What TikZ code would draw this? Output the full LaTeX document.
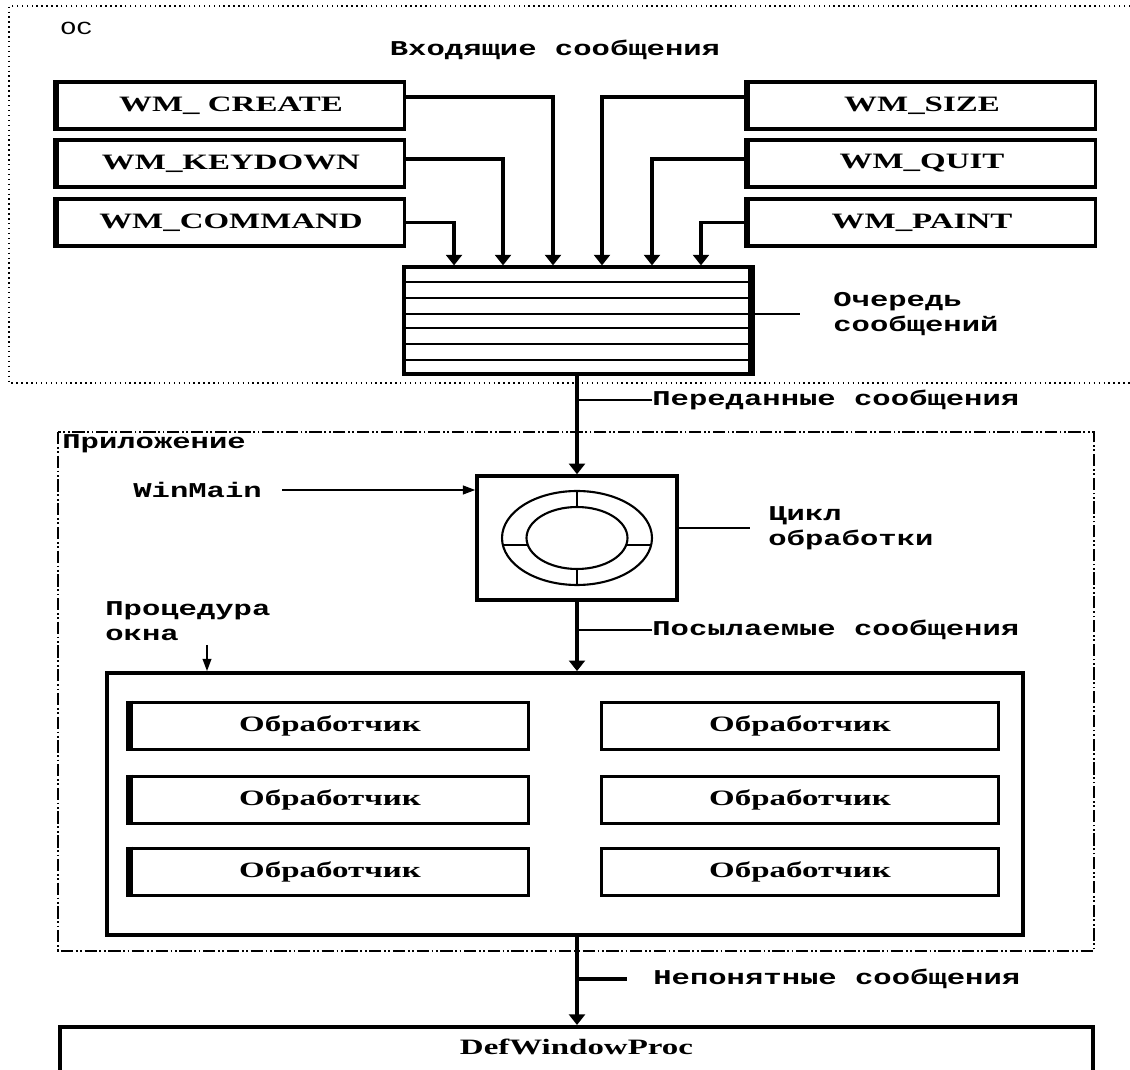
\documentclass[tikz,border=0pt]{standalone}
\usepackage{fontspec}
\usetikzlibrary{arrows.meta}
\newfontfamily\lblfont{Liberation Mono}[FakeStretch=1.45]
\newfontfamily\boxfont{Liberation Serif}[FakeStretch=1.5]

\begin{document}
\begin{tikzpicture}[x=0.02cm,y=-0.02cm,
    msg/.style={draw,line width=1.8pt,minimum width=6.95cm,minimum height=0.94cm,font=\boxfont\bfseries\fontsize{12.5}{14}\selectfont},
    handler/.style={draw,line width=1.9pt,minimum width=7.95cm,minimum height=0.95cm,font=\boxfont\bfseries\fontsize{12.5}{14}\selectfont},
    lbl/.style={font=\lblfont\bfseries\fontsize{12}{14.2}\selectfont,inner sep=0pt,align=left},
    arr/.style={line width=2.2pt,-{Triangle[length=6pt,width=9pt]}},
    thinarr/.style={line width=0.9pt,-{Triangle[length=7pt,width=5pt]}},
    pointer/.style={line width=0.8pt},
    appframe/.style={line width=1.1pt,dash pattern={on 7pt off 1.5pt on 1pt off 1.5pt on 1pt off 1.5pt}}]
    \useasboundingbox (0,0) rectangle (1130,1070);

    \draw[dotted,line width=0.8pt] (1130,6) -- (9,6) -- (9,383) -- (1130,383);
    \node[lbl,anchor=west,font=\lblfont\fontsize{10.5}{12}\selectfont] (os) at (60,28) {ОС};
    \node[lbl] (incoming) at (555,50) {Входящие сообщения};

    \node[msg] (create) at (231,105.5) {WM\_ CREATE};
    \node[msg] (keydown) at (231,163.5) {WM\_KEYDOWN};
    \node[msg] (command) at (231,222.5) {WM\_COMMAND};
    \node[msg] (size) at (922,105.5) {WM\_SIZE};
    \node[msg] (quit) at (922,163.5) {WM\_QUIT};
    \node[msg] (paint) at (922,222.5) {WM\_PAINT};
    \foreach \n in {create,keydown,command,size,quit,paint}
        \draw[line width=3.6pt] (\n.north west) -- (\n.south west);

    \node[draw,line width=1.8pt,minimum width=6.92cm,minimum height=2.14cm] (queue) at (577,320.5) {};
    \foreach \y in {282,298,314,328,344,360}
        \draw[line width=1.4pt] (404,\y) -- (750,\y);
    \draw[line width=3.6pt] (queue.north east) -- (queue.south east);

    \draw[arr] ([yshift=0.17cm]create.east) -| ([xshift=-0.48cm]queue.north);
    \draw[arr] ([yshift=0.09cm]keydown.east) -| ([xshift=-1.48cm]queue.north);
    \draw[arr] (command.east) -| ([xshift=-2.46cm]queue.north);
    \draw[arr] ([yshift=0.17cm]size.west) -| ([xshift=0.5cm]queue.north);
    \draw[arr] ([yshift=0.09cm]quit.west) -| ([xshift=1.5cm]queue.north);
    \draw[arr] (paint.west) -| ([xshift=2.48cm]queue.north);

    \node[lbl,anchor=west] (queuelbl) at (833,314) {Очередь\\сообщений};
    \draw[line width=1.6pt] (queue.east |- queuelbl.west) -- ([xshift=-0.66cm]queuelbl.west);

    \node[lbl,anchor=west] (passed) at (652,400) {Переданные сообщения};

    \draw[appframe] (58,432) rectangle (1094,951);
    \node[lbl,anchor=west] (app) at (62,444) {Приложение};

    \node[draw,line width=2pt,minimum width=4cm,minimum height=2.48cm] (cycle) at (577,538) {};
    \draw[line width=1.2pt] (cycle.center) ellipse [x radius=1.5cm,y radius=0.94cm];
    \draw[line width=1.2pt] (cycle.center) ellipse [x radius=1.01cm,y radius=0.62cm];
    \draw[line width=0.6pt] ([yshift=0.94cm]cycle.center) -- ([yshift=0.62cm]cycle.center);
    \draw[line width=0.6pt] ([yshift=-0.94cm]cycle.center) -- ([yshift=-0.62cm]cycle.center);
    \draw[line width=0.6pt] ([xshift=-1.49cm,yshift=-0.14cm]cycle.center) -- ([xshift=-1cm,yshift=-0.14cm]cycle.center);
    \draw[line width=0.6pt] ([xshift=1.49cm,yshift=-0.14cm]cycle.center) -- ([xshift=1cm,yshift=-0.14cm]cycle.center);

    \draw[arr] (queue.south) -- (cycle.north);
    \draw[pointer] (queue.south |- passed.west) -- (passed.west);

    \node[lbl,anchor=west] (winmain) at (133,490) {WinMain};
    \coordinate (wmstart) at (282,490);
    \draw[thinarr] (wmstart) -- (wmstart -| cycle.west);

    \node[lbl,anchor=west] (cyclelbl) at (768,528) {Цикл\\обработки};
    \draw[pointer] (cycle.east |- cyclelbl.west) -- ([xshift=-0.36cm]cyclelbl.west);

    \node[draw,line width=2.2pt,minimum width=18.32cm,minimum height=5.24cm] (proc) at (565,804) {};
    \node[lbl,anchor=west] (sent) at (652,630) {Посылаемые сообщения};
    \draw[arr] (cycle.south) -- (cycle.south |- proc.north);
    \draw[pointer] (cycle.south |- sent.west) -- (sent.west);

    \node[lbl,anchor=west] (proclbl) at (105,621) {Процедура\\окна};
    \coordinate (procin) at (207,645);
    \draw[thinarr] (procin) -- (procin |- proc.north);

    \foreach \row/\y in {1/726,2/800,3/872} {
        \node[handler] (hl\row) at (330,\y) {Обработчик};
        \node[handler] (hr\row) at (800,\y) {Обработчик};
        \draw[line width=3.6pt] (hl\row.north west) -- (hl\row.south west);
    }

    \node[draw,line width=2pt,anchor=north,minimum width=20.66cm,text height=0.27cm,text depth=1.4cm,inner ysep=0.28cm,font=\boxfont\bfseries\fontsize{12.5}{14}\selectfont] (defproc) at (576.5,1025) {DefWindowProc};
    \node[lbl,anchor=west] (unknown) at (653,979) {Непонятные сообщения};
    \draw[arr] (cycle.south |- proc.south) -- (cycle.south |- defproc.north);
    \draw[line width=2pt] (cycle.south |- unknown.west) -- ([xshift=-0.52cm]unknown.west);
\end{tikzpicture}
\end{document}
